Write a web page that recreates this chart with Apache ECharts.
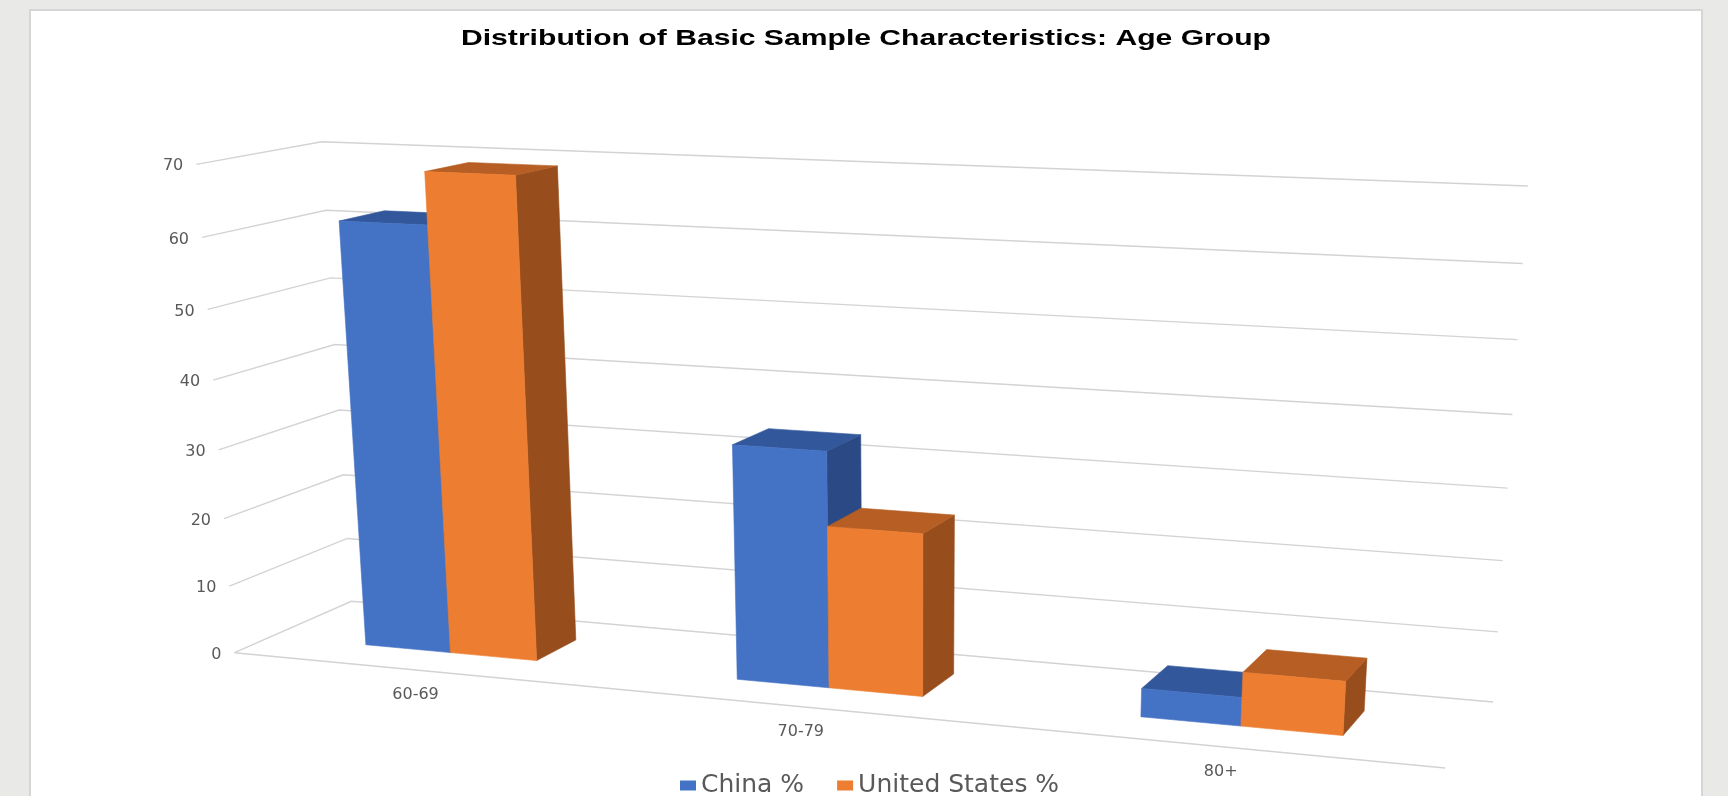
<!DOCTYPE html>
<html>
<head>
<meta charset="utf-8">
<script src="https://cdn.jsdelivr.net/npm/echarts@6/dist/echarts.min.js"></script>
<style>
  html, body { margin: 0; padding: 0; background: #e9e9e7; }
  #chart { width: 1728px; height: 796px; }
</style>
</head>
<body>
<div id="chart"></div>
<script>
// ---- data ----
const categories = ['60-69', '70-79', '80+'];
const chinaPct = [61.7, 33.6, 4];
const usPct = [69, 23.1, 7.5];
const yTicks = [0, 10, 20, 30, 40, 50, 60, 70];
const seriesNames = ['China %', 'United States %'];
const titleText = 'Distribution of Basic Sample Characteristics: Age Group';

// ---- 3D layout ----
// Screen positions of the plot box corners: [X (0..1 across categories), Y (0..1 of value range), Z (0 front .. 1 back), sx, sy]
const boxCorners = [
  [0, 0, 0, 233, 653],
  [0, 1, 0, 198, 164],
  [0, 0, 1, 353, 601],
  [0, 1, 1, 320, 142],
  [1, 0, 1, 1493, 702],
  [1, 1, 1, 1528, 186],
  [1, 0, 0, 1445, 768]
];
const BAR_FRAC = 0.235;          // width of one bar as a share of its category band
const BAR_DEPTH = [0.31, 0.69];  // front and back of every column
const Y_MAX = 70;

const faceColors = [
  { front: '#4472C4', top: '#32579A', side: '#2B4A85' },
  { front: '#ED7D31', top: '#B65E23', side: '#974E1C' }
];

// Fit a pinhole projection (3x4 matrix, last entry fixed to 1) to the box corners.
const CX = 860, CY = 450, S = 600;
function solveLinear(A, b) {
  const n = b.length;
  const M = A.map((row, i) => row.concat([b[i]]));
  for (let c = 0; c < n; c++) {
    let piv = c;
    for (let r = c + 1; r < n; r++) if (Math.abs(M[r][c]) > Math.abs(M[piv][c])) piv = r;
    [M[c], M[piv]] = [M[piv], M[c]];
    for (let r = 0; r < n; r++) {
      if (r === c) continue;
      const f = M[r][c] / M[c][c];
      for (let k = c; k <= n; k++) M[r][k] -= f * M[c][k];
    }
  }
  return M.map((row, i) => row[n] / row[i]);
}
function fitCamera(anchors) {
  const n = 11;
  const AtA = Array.from({ length: n }, () => new Array(n).fill(0));
  const Atb = new Array(n).fill(0);
  const addRow = (row, b) => {
    for (let i = 0; i < n; i++) {
      Atb[i] += row[i] * b;
      for (let j = 0; j < n; j++) AtA[i][j] += row[i] * row[j];
    }
  };
  anchors.forEach(([X, Y, Z, sx, sy]) => {
    const x = (sx - CX) / S, y = (sy - CY) / S;
    addRow([X, Y, Z, 1, 0, 0, 0, 0, -x * X, -x * Y, -x * Z], x);
    addRow([0, 0, 0, 0, X, Y, Z, 1, -y * X, -y * Y, -y * Z], y);
  });
  return solveLinear(AtA, Atb);
}
const cam = fitCamera(boxCorners);
function project(X, Y, Z) {
  const p = cam;
  const w = p[8] * X + p[9] * Y + p[10] * Z + 1;
  return [
    (p[0] * X + p[1] * Y + p[2] * Z + p[3]) / w * S + CX,
    (p[4] * X + p[5] * Y + p[6] * Z + p[7]) / w * S + CY
  ];
}
// Eye position in box space, used to decide which faces of a column are visible.
const eye = (function () {
  const p = cam;
  const M = [[p[0], p[1], p[2]], [p[4], p[5], p[6]], [p[8], p[9], p[10]]];
  return solveLinear(M, [-p[3], -p[7], -1]);
})();

// Convert a cartesian point (from the hidden grid) into box space.
function toBox(cs, pt) {
  return [(pt[0] - cs.x) / cs.width, (cs.y + cs.height - pt[1]) / cs.height];
}

function wallsRenderer(params, api) {
  const cs = params.coordSys;
  const v = api.value(1);
  const y = toBox(cs, api.coord([0, v]))[1];
  const lineStyle = { stroke: '#d3d3d3', lineWidth: 1.4, fill: null };
  const children = [{
    type: 'polyline',
    shape: { points: [project(0, y, 0), project(0, y, 1), project(1, y, 1)] },
    style: lineStyle
  }];
  if (v === 0) {
    children.push({
      type: 'line',
      shape: (function () { const a = project(0, 0, 0), b = project(1, 0, 0); return { x1: a[0], y1: a[1], x2: b[0], y2: b[1] }; })(),
      style: lineStyle
    });
  }
  const lp = project(0, y, 0);
  children.push({
    type: 'text',
    style: {
      text: String(v), x: lp[0] - 13, y: lp[1] + 2,
      align: 'right', verticalAlign: 'middle',
      fill: '#595959', font: '16px "DejaVu Sans"'
    }
  });
  return { type: 'group', children };
}

function categoryLabelRenderer(params, api) {
  const cs = params.coordSys;
  const i = api.value(0);
  const xc = toBox(cs, api.coord([i, 0]))[0];
  const p = project(xc, 0, 0);
  return {
    type: 'text',
    style: {
      text: categories[i], x: p[0], y: p[1] + 25,
      align: 'center', verticalAlign: 'middle',
      fill: '#595959', font: '16px "DejaVu Sans"'
    }
  };
}

function makeBarRenderer(seriesIdx) {
  const col = faceColors[seriesIdx];
  return function (params, api) {
    const cs = params.coordSys;
    const i = api.value(0), v = api.value(1);
    const base = toBox(cs, api.coord([i, 0]));
    const top = toBox(cs, api.coord([i, v]));
    const bw = api.size([1, 0])[0] / cs.width * BAR_FRAC;
    const x0 = seriesIdx === 0 ? base[0] - bw : base[0];
    const x1 = x0 + bw;
    const y0 = 0, y1 = top[1];
    const z0 = BAR_DEPTH[0], z1 = BAR_DEPTH[1];
    const P = project;
    const face = (pts, fill) => ({
      type: 'polygon', shape: { points: pts },
      style: { fill, stroke: fill, lineWidth: 0.6 }
    });
    const children = [];
    if (eye[0] < x0) children.push(face([P(x0, y0, z0), P(x0, y0, z1), P(x0, y1, z1), P(x0, y1, z0)], col.side));
    if (eye[0] > x1) children.push(face([P(x1, y0, z0), P(x1, y0, z1), P(x1, y1, z1), P(x1, y1, z0)], col.side));
    if (eye[1] > y1) children.push(face([P(x0, y1, z0), P(x1, y1, z0), P(x1, y1, z1), P(x0, y1, z1)], col.top));
    if (eye[2] < z0) children.push(face([P(x0, y0, z0), P(x1, y0, z0), P(x1, y1, z0), P(x0, y1, z0)], col.front));
    return { type: 'group', children };
  };
}

// Title width, stretched to the header's measured width.
const TITLE_FONT = 'bold 22px "Liberation Sans"';
const titleScale = (function () {
  const ctx = document.createElement('canvas').getContext('2d');
  ctx.font = TITLE_FONT;
  return 810 / ctx.measureText(titleText).width;
})();

const chart = echarts.init(document.getElementById('chart'), null, { renderer: 'canvas' });
chart.setOption({
  animation: false,
  backgroundColor: '#e9e9e7',
  graphic: [
    {
      type: 'rect', z: -10,
      shape: { x: 30, y: 10, width: 1672, height: 800 },
      style: { fill: '#ffffff', stroke: '#d6d6d6', lineWidth: 2 }
    },
    {
      type: 'text', x: 866, y: 39, scaleX: titleScale,
      style: { text: titleText, font: TITLE_FONT, fill: '#000000', align: 'center', verticalAlign: 'middle' }
    }
  ],
  legend: {
    data: seriesNames,
    left: 675, top: 768,
    icon: 'rect', itemWidth: 16, itemHeight: 10, itemGap: 33,
    textStyle: { color: '#595959', fontSize: 25, fontFamily: 'DejaVu Sans' }
  },
  grid: { left: 0, right: 0, top: 0, bottom: 0 },
  xAxis: { type: 'category', data: categories, show: false },
  yAxis: { type: 'value', min: 0, max: Y_MAX, interval: 10, show: false },
  series: [
    {
      type: 'custom', name: 'walls', silent: true, clip: false, z: 1,
      renderItem: wallsRenderer,
      data: yTicks.map(v => [0, v])
    },
    {
      type: 'custom', name: 'categoryLabels', silent: true, clip: false, z: 1,
      renderItem: categoryLabelRenderer,
      data: categories.map((c, i) => [i, 0])
    },
    {
      type: 'custom', name: seriesNames[0], clip: false, z: 3,
      itemStyle: { color: faceColors[0].front },
      renderItem: makeBarRenderer(0),
      data: chinaPct.map((v, i) => [i, v])
    },
    {
      type: 'custom', name: seriesNames[1], clip: false, z: 4,
      itemStyle: { color: faceColors[1].front },
      renderItem: makeBarRenderer(1),
      data: usPct.map((v, i) => [i, v])
    }
  ]
});
</script>
</body>
</html>
